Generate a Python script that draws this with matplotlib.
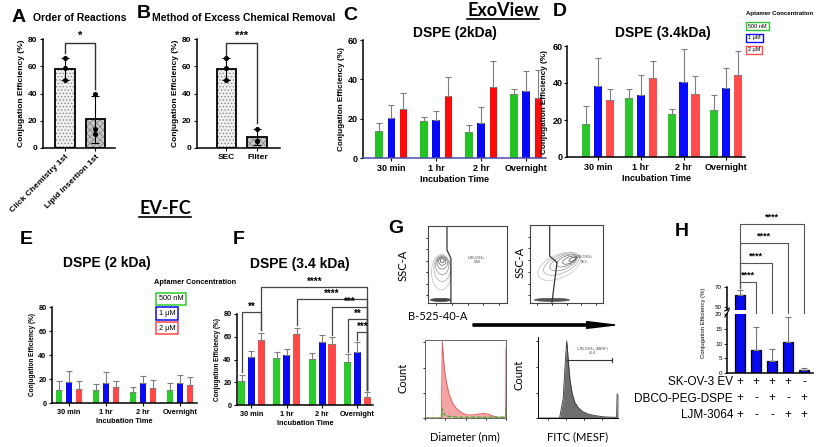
import numpy as np
import matplotlib
matplotlib.use('Agg')
import matplotlib.pyplot as plt
from matplotlib.patches import Ellipse
from matplotlib.lines import Line2D

plt.rcParams['font.family'] = ['Liberation Sans', 'DejaVu Sans']
plt.rcParams['axes.linewidth'] = 1.1
plt.rcParams['hatch.linewidth'] = 0.6
plt.rcParams['xtick.major.size'] = 2.5
plt.rcParams['ytick.major.size'] = 2.5
plt.rcParams['xtick.major.pad'] = 1.5
plt.rcParams['ytick.major.pad'] = 1.5

W, H = 817, 447

# ---- data ----
order_labels = ['Click Chemistry 1st', 'Lipid Insertion 1st']
order_mean = [58, 21]
order_sd = [8, 17]
order_pts = [[66, 59, 50], [40, 14, 10]]

removal_labels = ['SEC', 'Filter']
removal_mean = [58, 8]
removal_sd = [8, 6]
removal_pts = [[66, 59, 50], [14, 5, 5]]

times = ['30 min', '1 hr', '2 hr', 'Overnight']
conc = ['500 nM', '1 µM', '2 µM']

exo2_mean = [[13.5, 19, 13.2, 32.6], [20.5, 19.5, 17.8, 34], [25, 31.7, 36.3, 30.4]]
exo2_sd = [[4.4, 2, 3.4, 2.4], [6.7, 4.5, 7.9, 10], [8, 9.3, 13.1, 14.4]]
exo34_mean = [[18.1, 32, 23.5, 25.3], [38.2, 33.5, 40.5, 37.2], [30.9, 42.7, 33.8, 44.3]]
exo34_sd = [[9.4, 4.5, 2.2, 8.2], [15.3, 11, 18.1, 10.7], [6, 9.3, 9.8, 13]]
fc2_mean = [[11.1, 10.6, 9.2, 10.6], [17.8, 16.7, 16.7, 16.9], [12, 13.3, 12.5, 14.7]]
fc2_sd = [[6.9, 5, 4.1, 6.1], [8.9, 8.8, 6.1, 6.4], [6.6, 5.3, 6.4, 7.2]]
fc34_mean = [[21.5, 41, 40.1, 37.8], [41.9, 43.7, 55.8, 47], [57.2, 62.2, 53.4, 6.8]]
fc34_sd = [[5.3, 5.9, 5.6, 6.7], [5.9, 5.9, 5.9, 8.5], [6.5, 5.9, 6.2, 4.7]]
# (time, conc) pairs compared in F
fc34_sig = [((0, 0), (0, 2), '**'), ((0, 2), (3, 2), '****'), ((1, 2), (3, 2), '****'),
            ((2, 2), (3, 2), '***'), ((3, 0), (3, 2), '**'), ((3, 1), (3, 2), '***')]
fc34_sig_y = [81.8, 103.7, 93.2, 86.2, 75.6, 64.2]

h_rows = ['SK-OV-3 EV', 'DBCO-PEG-DSPE', 'LJM-3064']
h_signs = [['+', '+', '+', '+', '-'], ['+', '-', '+', '-', '+'], ['+', '-', '-', '+', '+']]
h_mean = [62, 7.7, 4, 10.5, 1]
h_sd = [5, 8, 4, 8.5, 0.8]
h_sig_y = [75, 94, 114, 133]

# G: flow data
diam_nm = [0, 110, 122, 128, 135, 145, 160, 180, 205, 235, 270, 310, 350, 390, 430, 470, 510, 550, 590, 598, 600]
diam_red = [0, 0, 0, 1.0, 0.82, 0.62, 0.45, 0.3, 0.19, 0.12, 0.07, 0.04, 0.04, 0.05, 0.06, 0.05, 0.02, 0.01, 0.01, 0.01, 0.92]
diam_green = [0, 0, 0, 0.12, 0.07, 0.04, 0.03, 0.02, 0.02, 0.01, 0.01, 0.01, 0.01, 0.01, 0.01, 0.01, 0.01, 0.01, 0.01, 0.01, 0.17]
fitc_mesf = [-310, -70, -30, -5, 10, 25, 45, 70, 100, 140, 190, 250, 330, 420, 520, 565, 570, 580]
fitc_count = [0, 0, 0.25, 0.75, 1.0, 0.78, 0.5, 0.32, 0.2, 0.13, 0.08, 0.05, 0.03, 0.015, 0.01, 0.01, 0.31, 0.31]
neg_cx = [18, 18, 18, 18, 18, 17]
neg_cy = [55, 54, 52, 49, 45, 40]
neg_w = [5, 9, 13, 17, 21, 25]
neg_h = [5, 10, 16, 24, 34, 46]
pos_cx = [58, 54, 50, 46, 43, 40]
pos_cy = [56, 55, 54, 52, 50, 47]
pos_w = [10, 20, 30, 40, 52, 62]
pos_h = [4, 8, 12, 17, 23, 30]
neg_gate_x = [24, 24, 29, 29]
neg_gate_y = [100, 69, 58, 0]
pos_gate_x = [27, 27, 37, 30]
pos_gate_y = [100, 60, 52, 0]

fig = plt.figure(figsize=(W / 100, H / 100), dpi=100)


def rect(l, t, r, b):
    return [l / W, 1 - b / H, (r - l) / W, (b - t) / H]


def ftext(x, y, s, **kw):
    return fig.text(x / W, 1 - y / H, s, **kw)


def clean(ax):
    ax.spines['top'].set_visible(False)
    ax.spines['right'].set_visible(False)


def pair_panel(ax, labels, mean, sd, pts, hatches, faces, sig, legs, rot):
    x = np.arange(len(labels))
    ax.bar(x, mean, 0.64, color=faces, hatch=hatches, edgecolor='#8a8a8a', lw=0)
    ax.bar(x, mean, 0.64, fill=False, edgecolor='black', lw=1.3)
    ax.errorbar(x, mean, yerr=sd, fmt='none', ecolor='black', elinewidth=0.8, capsize=3, capthick=0.8)
    for i in range(len(labels)):
        ax.plot([x[i]] * len(pts[i]), pts[i], 'o', color='black', ms=2.6)
    ax.plot([0, 0, 1, 1], [legs[0], 77, 77, legs[1]], color='#333333', lw=1)
    ax.text(0.5, 79, sig, ha='center', va='bottom', fontsize=8, fontweight='bold')
    ax.set_ylim(0, 80)
    ax.set_yticks([0, 20, 40, 60, 80])
    ax.set_xticks(x)
    if rot:
        ax.set_xticklabels(labels, rotation=45, ha='right', rotation_mode='anchor', fontsize=6, fontweight='bold')
    else:
        ax.set_xticklabels(labels, fontsize=6, fontweight='bold')
    ax.set_ylabel('Conjugation Efficiency (%)', fontsize=6, fontweight='bold', labelpad=2)
    ax.tick_params(labelsize=6)
    for t in ax.get_yticklabels():
        t.set_fontweight('bold')
    clean(ax)


# ---- A ----
axA = fig.add_axes(rect(43, 39, 115, 148))
pair_panel(axA, order_labels, order_mean, order_sd, order_pts, ['.....', 'xxxxx'], ['#f0f0f0', '#c8c8c8'], '*', [70, 43], True)
axA.set_xlim(-0.72, 1.64)
ftext(12, 17, 'A', fontsize=14, fontweight='bold', va='center')
ftext(80, 18, 'Order of Reactions', fontsize=7.5, fontweight='bold', ha='center', va='center')

# ---- B ----
axB = fig.add_axes(rect(197, 39, 280, 148))
pair_panel(axB, removal_labels, removal_mean, removal_sd, removal_pts, ['.....', 'xxxxx'], ['#f0f0f0', '#c8c8c8'], '***', [68, 18], False)
axB.set_xlim(-0.95, 1.73)
ftext(137, 14, 'B', fontsize=14, fontweight='bold', va='center')
ftext(244, 18, 'Method of Excess Chemical Removal', fontsize=7.5, fontweight='bold', ha='center', va='center')


def grouped(ax, mean, sd, offs, width, colors, ymax, fs, ecol='#7f7f7f'):
    x = np.arange(len(times))
    for k in range(3):
        ax.bar(x + offs[k], mean[k], width, color=colors[k], lw=0,
               yerr=[np.zeros(len(times)), sd[k]], ecolor=ecol, capsize=2.2,
               error_kw=dict(elinewidth=0.8, capthick=0.8))
    ax.set_ylim(0, ymax)
    ax.set_xticks(x)
    ax.set_xticklabels(times, fontsize=fs, fontweight='bold')
    ax.tick_params(axis='y', labelsize=fs)
    for t in ax.get_yticklabels():
        t.set_fontweight('bold')
    ax.set_xlabel('Incubation Time', fontsize=fs, fontweight='bold', labelpad=2)
    ax.set_ylabel('Conjugation Efficiency (%)', fontsize=fs - 0.6, fontweight='bold', labelpad=1.5)
    clean(ax)


exo_colors = ['#22c322', '#0808f8', '#ff0a0a']
exo34_colors = ['#2cc62c', '#0a0aff', '#ff4d4d']
fc_colors = ['#2ccb2c', '#0a0af0', '#ff4848']

# ---- C ----
axC = fig.add_axes(rect(363, 40, 546, 158))
grouped(axC, exo2_mean, exo2_sd, [-0.27, 0, 0.27], 0.17, exo_colors, 60, 6.5)
axC.set_xlim(-0.63, 3.44)
axC.set_yticks([0, 20, 40, 60])
axC.spines['bottom'].set_color('#4a4aa8')
ftext(343, 16, 'C', fontsize=14, fontweight='bold', va='center')
ftext(455, 33, 'DSPE (2kDa)', fontsize=10, fontweight='bold', ha='center', va='center')
exo_t = ftext(503, 11, 'ExoView', fontsize=13, fontweight='bold', ha='center', va='center', family=['Lato', 'DejaVu Sans'])

# ---- D ----
axD = fig.add_axes(rect(567, 46, 745, 157))
grouped(axD, exo34_mean, exo34_sd, [-0.28, 0, 0.28], 0.19, exo34_colors, 60, 6.5)
axD.set_xlim(-0.73, 3.44)
axD.set_yticks([0, 20, 40, 60])
axD.tick_params(axis='y', length=2, pad=1)
axD.yaxis.set_label_coords(-0.108, 0.5)
ftext(553, 12, 'D', fontsize=14, fontweight='bold', va='center')
ftext(663, 33, 'DSPE (3.4kDa)', fontsize=10, fontweight='bold', ha='center', va='center')
ftext(746, 13, 'Aptamer Concentration', fontsize=4.3, fontweight='bold', va='center')
for k in range(3):
    ftext(748, 26 + 12 * k, conc[k], fontsize=4, va='center',
          bbox=dict(boxstyle='square,pad=0.35', fc='white', ec=exo34_colors[k], lw=1))

# ---- E ----
axE = fig.add_axes(rect(52, 307, 197, 403))
grouped(axE, fc2_mean, fc2_sd, [-0.27, 0, 0.27], 0.18, fc_colors, 80, 5.3)
axE.set_xlim(-0.46, 3.46)
axE.set_yticks([0, 20, 40, 60, 80])
ftext(20, 240, 'E', fontsize=14, fontweight='bold', va='center')
ftext(107, 263, 'DSPE (2 kDa)', fontsize=10, fontweight='bold', ha='center', va='center')
evfc_t = ftext(165, 209, 'EV-FC', fontsize=13, fontweight='bold', ha='center', va='center', family=['Lato', 'DejaVu Sans'])
ftext(154, 282, 'Aptamer Concentration', fontsize=5.3, fontweight='bold', va='center')
for k in range(3):
    ftext(159, 299 + 14.5 * k, conc[k], fontsize=5.3, va='center',
          bbox=dict(boxstyle='square,pad=0.35', fc='white', ec=fc_colors[k], lw=1.1))

# ---- F ----
axF = fig.add_axes(rect(237, 314, 373, 405))
offF = [-0.28, 0, 0.28]
grouped(axF, fc34_mean, fc34_sd, offF, 0.2, fc_colors, 80, 5.3)
axF.set_xlim(-0.41, 3.44)
axF.set_yticks([0, 20, 40, 60, 80])
for (a, b, lab), yl in zip(fc34_sig, fc34_sig_y):
    xa = a[0] + offF[a[1]]
    xb = b[0] + offF[b[1]]
    ya = fc34_mean[a[1]][a[0]] + fc34_sd[a[1]][a[0]] + 2
    yb = fc34_mean[b[1]][b[0]] + fc34_sd[b[1]][b[0]] + 2
    axF.plot([xa, xa, xb, xb], [ya, yl, yl, yb], color='#444444', lw=0.9, clip_on=False)
    axF.text((xa + xb) / 2, yl + 0.5, lab, ha='center', va='bottom', fontsize=7, fontweight='bold', clip_on=False)
ftext(233, 239, 'F', fontsize=14, fontweight='bold', va='center')
ftext(300, 264, 'DSPE (3.4 kDa)', fontsize=10, fontweight='bold', ha='center', va='center')

# ---- G ----
gfont = ['Lato', 'DejaVu Sans']
ftext(388, 228, 'G', fontsize=14, fontweight='bold', va='center')


def flow_axes(r):
    ax = fig.add_axes(rect(*r))
    ax.set_xlim(0, 100)
    ax.set_ylim(0, 100)
    ax.set_xticks([10, 30, 50, 70, 90])
    ax.set_yticks([10, 25, 40, 55, 70, 85])
    ax.tick_params(labelleft=False, labelbottom=False, length=1.5, width=0.6)
    for s in ax.spines.values():
        s.set_linewidth(0.8)
        s.set_color('#444444')
    return ax


axG1 = flow_axes((428, 226, 507, 303))
for i in range(len(neg_w)):
    axG1.add_patch(Ellipse((neg_cx[i], neg_cy[i]), neg_w[i], neg_h[i], fill=False,
                           ec=str(0.25 + 0.1 * i), lw=0.5))
axG1.add_patch(Ellipse((16, 4), 26, 4, fc='#444444', ec='#444444', lw=0.5))
axG1.plot(neg_gate_x, neg_gate_y, color='#333333', lw=0.9)
axG1.text(62, 56, 'LJM-3064+\n0.08', fontsize=2.5, ha='center', va='center', color='#444444')
ftext(403, 265, 'SSC-A', fontsize=8, rotation=90, ha='center', va='center', family=gfont)

axG2 = flow_axes((530, 225, 603, 303))
for i in range(len(pos_w)):
    axG2.add_patch(Ellipse((pos_cx[i], pos_cy[i]), pos_w[i], pos_h[i], angle=22, fill=False,
                           ec=str(0.25 + 0.1 * i), lw=0.5))
axG2.add_patch(Ellipse((30, 4), 48, 4, fc='#555555', ec='#555555', lw=0.5))
axG2.plot(pos_gate_x, pos_gate_y, color='#333333', lw=0.9)
axG2.text(74, 56, 'LJM-3064+\n96.2', fontsize=2.5, ha='center', va='center', color='#444444')
ftext(520, 262, 'SSC-A', fontsize=8, rotation=90, ha='center', va='center', family=gfont)

ftext(438, 317, 'B-525-40-A', fontsize=8, ha='center', va='center', family=gfont)
fig.add_artist(plt.Arrow(473 / W, 1 - 325 / H, 142 / W, 0, width=0.025, color='black'))

axG3 = fig.add_axes(rect(425, 340, 506, 418))
axG3.fill_between(diam_nm, diam_red, color='#f4a6a6', lw=0)
axG3.plot(diam_nm, diam_red, color='#e85a5a', lw=0.7)
axG3.plot(diam_nm, diam_green, color='#22b822', lw=0.8, ls='--')
axG3.set_xlim(0, 600)
axG3.set_ylim(0, 1.02)
axG3.set_xticks([0, 150, 300, 450, 600])
axG3.set_yticks([0, 0.33, 0.66, 1.0])
axG3.tick_params(labelleft=False, labelbottom=False, length=1.5, width=0.6)
for s in axG3.spines.values():
    s.set_linewidth(0.7)
    s.set_color('#666666')
ftext(403, 378, 'Count', fontsize=8, rotation=90, ha='center', va='center', family=gfont)
ftext(465, 437, 'Diameter (nm)', fontsize=8, ha='center', va='center', family=gfont)

axG4 = fig.add_axes(rect(538, 337, 618, 418))
axG4.fill_between(fitc_mesf, fitc_count, color='#6e6e6e', lw=0)
axG4.plot(fitc_mesf, fitc_count, color='#333333', lw=0.6)
axG4.set_xlim(-310, 580)
axG4.set_ylim(0, 1.05)
axG4.set_xticks([-200, 0, 200, 400])
axG4.set_yticks([0, 0.33, 0.66, 1.0])
axG4.tick_params(labelleft=False, labelbottom=False, length=1.5, width=0.6)
axG4.spines['top'].set_visible(False)
axG4.spines['right'].set_visible(False)
for s in axG4.spines.values():
    s.set_linewidth(0.7)
axG4.plot([12, 513], [0.75, 0.75], color='#333333', lw=0.8)
axG4.plot([513, 513], [0.72, 0.78], color='#333333', lw=0.8)
axG4.text(290, 0.87, 'LJM-3064+ (MESF)\n45.4', fontsize=2.5, ha='center', va='center', color='#444444')
ftext(519, 375, 'Count', fontsize=8, rotation=90, ha='center', va='center', family=gfont)
ftext(578, 437, 'FITC (MESF)', fontsize=8, ha='center', va='center', family=gfont)

# ---- H ----
ftext(675, 232, 'H', fontsize=14, fontweight='bold', va='center')
hx = np.arange(len(h_mean))
axHi = fig.add_axes(rect(727, 287, 813, 310))
axLo = fig.add_axes(rect(727, 314, 813, 373))
for ax in (axHi, axLo):
    ax.bar(hx, h_mean, 0.68, color='#0a0af0', edgecolor='black', lw=0.9,
           yerr=[np.zeros(len(h_mean)), h_sd], ecolor='#777777', capsize=2,
           error_kw=dict(elinewidth=0.8, capthick=0.8))
    ax.set_xlim(-0.81, 4.56)
    ax.set_xticks([])
    ax.tick_params(labelsize=4.5, length=2, width=0.6)
    ax.spines['right'].set_visible(False)
axHi.set_ylim(47, 70)
axHi.set_yticks([50, 70])
axHi.spines['bottom'].set_visible(False)
axHi.spines['top'].set_visible(False)
axLo.set_ylim(0, 20)
axLo.set_yticks([0, 5, 10, 15, 20])
axLo.spines['top'].set_visible(False)
axLo.set_ylabel('Conjugation Efficiency (%)', fontsize=4.3, labelpad=2)
axLo.yaxis.set_label_coords(-0.24, 0.85)
axHi.plot([-0.95, -0.67], [46, 49], color='black', lw=0.8, clip_on=False)
axLo.plot([-0.95, -0.67], [19, 21.5], color='black', lw=0.8, clip_on=False)
to_hi = axHi.transData.inverted()
for j in range(1, len(h_mean)):
    cap = h_mean[j] + h_sd[j] + 1.2
    leg_end = to_hi.transform(axLo.transData.transform((hx[j], cap)))[1]
    yl = h_sig_y[j - 1]
    axHi.plot([hx[0], hx[0], hx[j], hx[j]], [69, yl, yl, leg_end], color='#555555', lw=0.8, clip_on=False)
    axHi.text((hx[0] + hx[j]) / 2, yl + 2, '****', ha='center', va='bottom', fontsize=6.5, fontweight='bold', clip_on=False)
for r in range(len(h_rows)):
    ypx = 382 + 16.5 * r
    ftext(733, ypx, h_rows[r], fontsize=8.5, ha='right', va='center')
    for j in range(len(h_mean)):
        xp = axLo.transData.transform((hx[j], 0))[0]
        fig.text(xp / fig.bbox.width, 1 - ypx / H, h_signs[r][j], fontsize=8.5, ha='center', va='center')

# underline the method headings
renderer = fig.canvas.get_renderer()
for t in (exo_t, evfc_t):
    bb = t.get_window_extent(renderer).transformed(fig.transFigure.inverted())
    fig.add_artist(Line2D([bb.x0, bb.x1], [bb.y0 + 0.002, bb.y0 + 0.002], color='black', lw=1.2))

fig.savefig('out.png', dpi=100)
